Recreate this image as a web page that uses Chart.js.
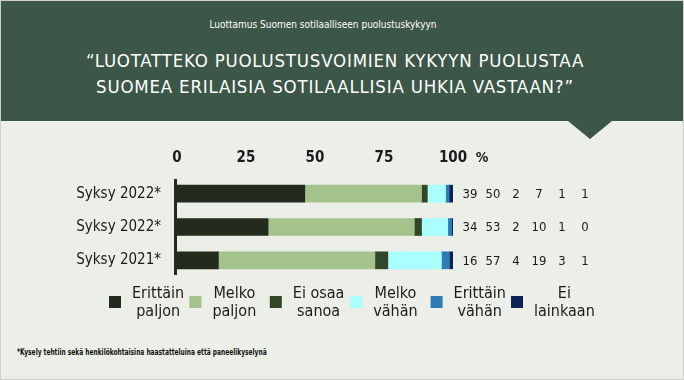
<!DOCTYPE html>
<html>
<head>
<meta charset="utf-8">
<script src="https://cdn.jsdelivr.net/npm/chart.js@4"></script>
<style>
  html, body { margin:0; padding:0; background:#eceee8; }
  #wrap { position:relative; width:684px; height:380px; overflow:hidden; background:#eceee8; box-sizing:border-box; border:1px solid #cfd1cc; }
  #head { position:absolute; left:0; top:0; width:684px; height:120px; background:#3c5648; }
  #notch { position:absolute; left:567px; top:120px; width:0; height:0; border-left:22px solid transparent; border-right:22px solid transparent; border-top:18px solid #3c5648; }
  #sub { position:absolute; left:0; width:644px; top:18px; text-align:center; color:#fff; font:10px/12px "DejaVu Sans Condensed",sans-serif; }
  #title { position:absolute; left:0; width:668px; top:47px; text-align:center; color:#fff; font:18.5px/26px "DejaVu Sans Condensed",sans-serif; letter-spacing:0.8px; }
  #foot { position:absolute; left:16px; top:346px; color:#111; font:bold 9px/11px "DejaVu Sans Condensed",sans-serif; transform:scaleX(0.73); transform-origin:0 0; white-space:nowrap; }
  #c { position:absolute; left:0; top:0; }
</style>
</head>
<body>
<div id="wrap">
  <div id="head"></div>
  <div id="notch"></div>
  <div id="sub">Luottamus Suomen sotilaalliseen puolustuskykyyn</div>
  <div id="title">“LUOTATTEKO PUOLUSTUSVOIMIEN KYKYYN PUOLUSTAA<br>SUOMEA ERILAISIA SOTILAALLISIA UHKIA VASTAAN?”</div>
  <div id="foot">*Kysely tehtiin sekä henkilökohtaisina haastatteluina että paneelikyselynä</div>
  <canvas id="c" width="684" height="380"></canvas>
</div>
<script>
// ---- data ----
const categories = ['Syksy 2022*', 'Syksy 2022*', 'Syksy 2021*'];
const xTicks = [0, 25, 50, 75, 100];
const seriesNames = ['Erittäin paljon', 'Melko paljon', 'Ei osaa sanoa', 'Melko vähän', 'Erittäin vähän', 'Ei lainkaan'];
const legendLines = [['Erittäin','paljon'], ['Melko','paljon'], ['Ei osaa','sanoa'], ['Melko','vähän'], ['Erittäin','vähän'], ['Ei','lainkaan']];
// bar lengths as drawn
const erittainPaljon = [46.3, 33.0, 15.0];
const melkoPaljon    = [42.3, 53.0, 56.7];
const eiOsaaSanoa    = [2.1, 2.6, 4.7];
const melkoVahan     = [6.6, 9.5, 19.4];
const erittainVahan  = [1.3, 1.4, 2.9];
const eiLainkaan     = [1.4, 0.4, 1.3];
// printed percentages
const printedErittainPaljon = [39, 34, 16];
const printedMelkoPaljon    = [50, 53, 57];
const printedEiOsaaSanoa    = [2, 2, 4];
const printedMelkoVahan     = [7, 10, 19];
const printedErittainVahan  = [1, 1, 3];
const printedEiLainkaan     = [1, 0, 1];

const colors = ['#222b1c', '#a3c28c', '#33462a', '#aaffff', '#2e7cb6', '#0b2255'];
const values = [erittainPaljon, melkoPaljon, eiOsaaSanoa, melkoVahan, erittainVahan, eiLainkaan];
const printed = [printedErittainPaljon, printedMelkoPaljon, printedEiOsaaSanoa, printedMelkoVahan, printedErittainVahan, printedEiLainkaan];

const FONT = '"DejaVu Sans Condensed",sans-serif';
const TXT = '#1b1b1b';

const extras = {
  id: 'extras',
  afterDraw(chart) {
    const ctx = chart.ctx, ca = chart.chartArea, ys = chart.scales.y;
    ctx.save();
    // vertical axis line
    ctx.fillStyle = '#222b1c';
    ctx.fillRect(ca.left - 3, ca.top + 2, 3, ca.bottom - ca.top - 4);
    // percent sign
    ctx.fillStyle = TXT;
    ctx.font = 'bold 14px ' + FONT;
    ctx.textAlign = 'center'; ctx.textBaseline = 'middle';
    ctx.fillText('%', ca.right + 29, 157);
    // printed values
    ctx.font = '13px ' + FONT;
    categories.forEach((c, i) => {
      const y = ys.getPixelForValue(i);
      printed.forEach((arr, j) => {
        ctx.fillText(String(arr[i]), ca.right + 17 + j * 23, y + 1);
      });
    });
    // legend
    ctx.font = '16px ' + FONT;
    legendLines.forEach((lines, j) => {
      const sx = 108 + j * 80.4;
      ctx.fillStyle = colors[j];
      ctx.fillRect(sx, 295, 12, 12);
      const w = Math.max(...lines.map(l => ctx.measureText(l).width));
      const cx = sx + 12 + 11 + w / 2;
      ctx.fillStyle = TXT;
      ctx.fillText(lines[0], cx, 293);
      ctx.fillText(lines[1], cx, 311);
    });
    ctx.restore();
  }
};

new Chart(document.getElementById('c'), {
  type: 'bar',
  data: {
    labels: categories,
    datasets: values.map((v, j) => ({
      label: seriesNames[j], data: v, backgroundColor: colors[j],
      borderWidth: 0, barThickness: 17
    }))
  },
  options: {
    indexAxis: 'y', responsive: false, animation: false,
    layout: { padding: { left: 0, right: 232, top: 0, bottom: 104 } },
    plugins: { legend: { display: false }, tooltip: { enabled: false } },
    scales: {
      x: {
        position: 'top', stacked: true, min: 0, max: 100,
        afterBuildTicks(s) { s.ticks = xTicks.map(v => ({ value: v })); },
        afterFit(s) { s.height = 176; },
        grid: { display: false, drawTicks: false }, border: { display: false },
        ticks: { padding: 10, color: TXT, font: { family: FONT, size: 15, weight: 'bold' }, maxRotation: 0 }
      },
      y: {
        stacked: true,
        afterFit(s) { s.width = 176; },
        grid: { display: false, drawTicks: false }, border: { display: false },
        ticks: { padding: 16, color: TXT, font: { family: FONT, size: 15 } }
      }
    }
  },
  plugins: [extras]
});
</script>
</body>
</html>
